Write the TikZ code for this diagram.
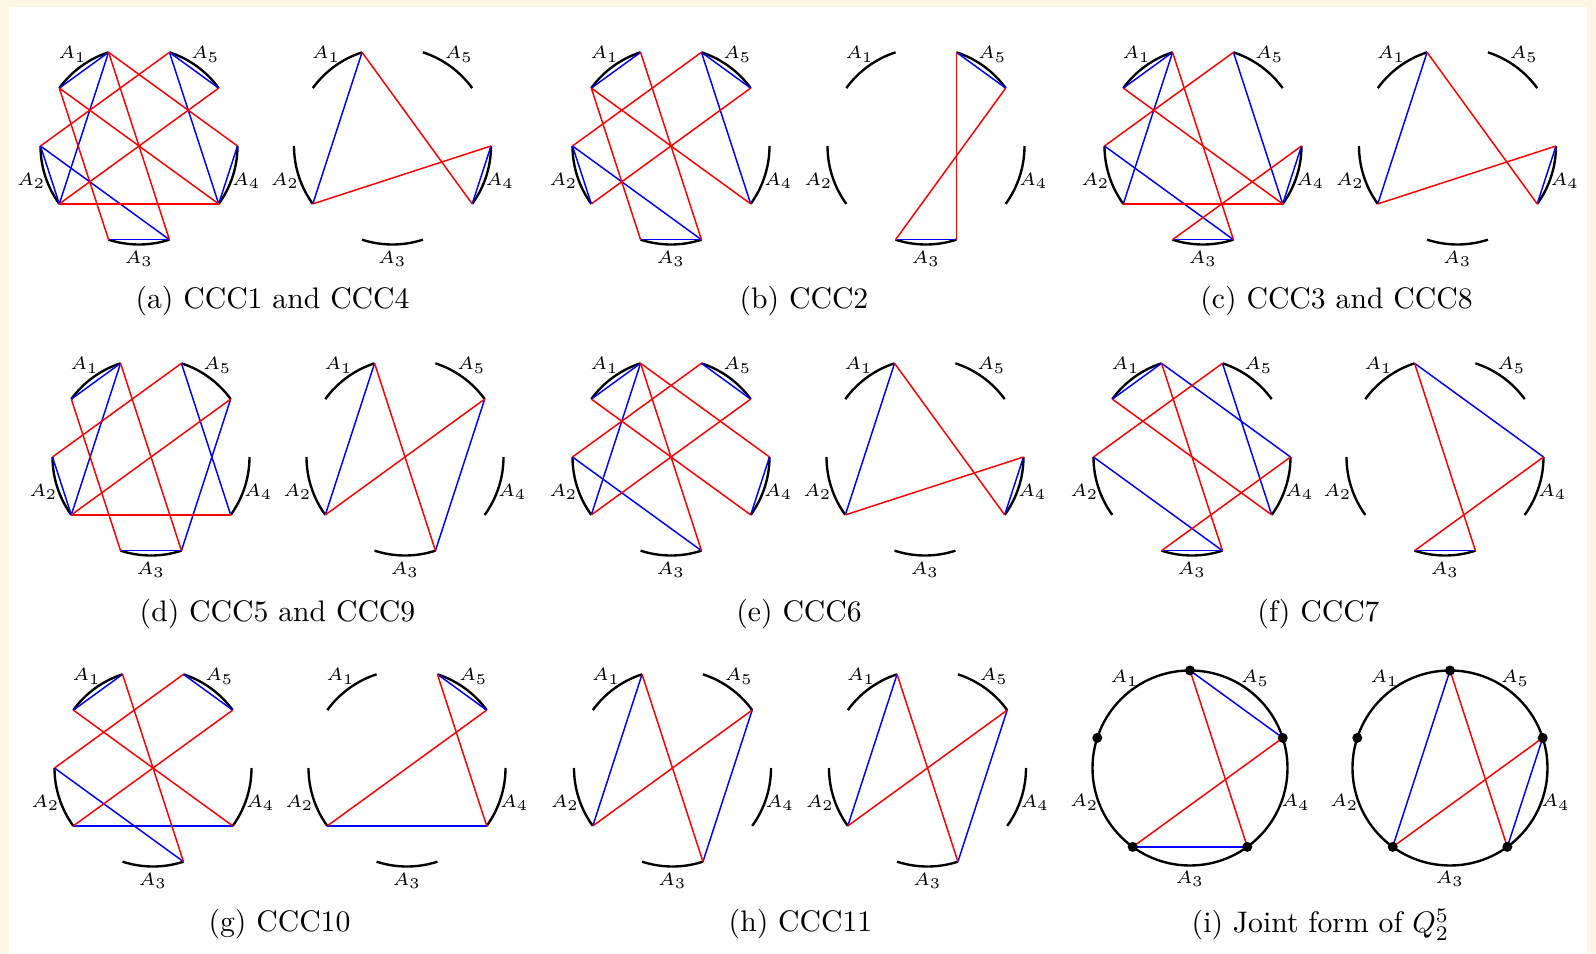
\documentclass[tikz,border=0pt]{standalone}
\usepackage{amsmath, amssymb}
\usepackage{tikz}
\usetikzlibrary{
  calc,%
  positioning
}
\tikzset{>=latex}
\tikzset{font=\normalsize}
\tikzset{arcline/.style={black, line width=0.8pt},
  bchord/.style={blue, line width=0.5pt},
  rchord/.style={red, line width=0.5pt},
  albl/.style={font=\fontsize{6}{7}\selectfont, inner sep=0pt},
  subcap/.style={font=\normalsize, inner sep=0pt}}
\definecolor{paper}{RGB}{252,245,228}

% five arcs A_1..A_5, end points (#1-0) ... (#1-9)
\newcommand{\splitcirc}[3]{%
  \coordinate (#1) at (#2,#3);
  \foreach \k in {0,...,9}
    \coordinate (#1-\k) at ($(#1)+(36*\k:98.5)$);
  \foreach \k in {1,3,5,7,9}
    \draw[arcline] (#1-\k) arc[start angle=36*\k, end angle=36*\k+36, radius=98.5];
  \foreach \a/\i in {126/1,198/2,270/3,342/4,54/5}
    \node[albl] (#1-A\i) at ($(#1)+(\a:113)$) {$A_\i$};
}
% whole circle, points (#1-0) ... (#1-4)
\newcommand{\jointcirc}[3]{%
  \coordinate (#1) at (#2,#3);
  \draw[arcline] (#1) circle[radius=97.5];
  \foreach \k in {0,...,4}
    \coordinate (#1-\k) at ($(#1)+(18+72*\k:97.5)$);
  \foreach \a/\i in {126/1,198/2,270/3,342/4,54/5}
    \node[albl] (#1-A\i) at ($(#1)+(\a:111)$) {$A_\i$};
}
\newcommand{\chords}[3]{\foreach \p/\q in {#3} \draw[#2] (#1-\p) -- (#1-\q);}

\begin{document}
\begin{tikzpicture}[x=0.3367pt, y=0.3367pt]
  \useasboundingbox (0,0) rectangle (1596,953);
  \fill[paper] (0,0) rectangle (1596,953);
  \fill[white] (9,0) rectangle (1587,946);

  % row 1
  \splitcirc{aL}{139}{807}
  \chords{aL}{bchord}{3/4,1/2,9/0,7/8,5/6,3/6,5/8,2/9}
  \chords{aL}{rchord}{3/8,4/7,2/5,1/6,6/9,3/0,4/9}
  \splitcirc{aR}{392.5}{807}
  \chords{aR}{bchord}{3/6,9/0}
  \chords{aR}{rchord}{3/9,6/0}
  \node[subcap] (capa) at (272.5,652) {(a) CCC1 and CCC4};

  \splitcirc{bL}{671}{807}
  \chords{bL}{bchord}{3/4,1/2,5/6,7/8,2/9,5/8}
  \chords{bL}{rchord}{3/8,4/7,2/5,1/6,4/9}
  \splitcirc{bR}{926}{807}
  \chords{bR}{bchord}{1/2,7/8}
  \chords{bR}{rchord}{2/8,1/7}
  \node[subcap] (capb) at (804,652) {(b) CCC2};

  \splitcirc{cL}{1203}{807}
  \chords{cL}{bchord}{3/4,3/6,5/8,2/9,9/0,7/8}
  \chords{cL}{rchord}{3/8,2/5,4/9,6/9,7/0}
  \splitcirc{cR}{1457.5}{807}
  \chords{cR}{bchord}{3/6,9/0}
  \chords{cR}{rchord}{3/9,6/0}
  \node[subcap] (capc) at (1336.5,652) {(c) CCC3 and CCC8};

  % row 2
  \splitcirc{dL}{151}{496}
  \chords{dL}{bchord}{3/4,3/6,5/6,7/8,2/9,1/8}
  \chords{dL}{rchord}{3/8,4/7,2/5,1/6,6/9}
  \splitcirc{dR}{405}{496}
  \chords{dR}{bchord}{3/6,1/8}
  \chords{dR}{rchord}{3/8,6/1}
  \node[subcap] (capd) at (277.5,339) {(d) CCC5 and CCC9};

  \splitcirc{eL}{671}{496}
  \chords{eL}{bchord}{3/4,3/6,5/8,1/2,9/0}
  \chords{eL}{rchord}{3/8,3/0,4/9,2/5,1/6}
  \splitcirc{eR}{925}{496}
  \chords{eR}{bchord}{3/6,9/0}
  \chords{eR}{rchord}{3/9,6/0}
  \node[subcap] (cape) at (799,339) {(e) CCC6};

  \splitcirc{fL}{1192}{496}
  \chords{fL}{bchord}{3/4,3/0,2/9,5/8,7/8}
  \chords{fL}{rchord}{3/8,2/5,4/9,7/0}
  \splitcirc{fR}{1445}{496}
  \chords{fR}{bchord}{3/0,7/8}
  \chords{fR}{rchord}{3/8,7/0}
  \node[subcap] (capf) at (1318.5,339) {(f) CCC7};

  % row 3
  \splitcirc{gL}{153}{185}
  \chords{gL}{bchord}{3/4,1/2,5/8,6/9}
  \chords{gL}{rchord}{3/8,4/9,2/5,1/6}
  \splitcirc{gR}{407}{185}
  \chords{gR}{bchord}{1/2,6/9}
  \chords{gR}{rchord}{2/9,1/6}
  \node[subcap] (capg) at (279.5,28.5) {(g) CCC10};

  \splitcirc{hL}{672.5}{185}
  \chords{hL}{bchord}{3/6,1/8}
  \chords{hL}{rchord}{3/8,1/6}
  \splitcirc{hR}{927.5}{185}
  \chords{hR}{bchord}{3/6,1/8}
  \chords{hR}{rchord}{3/8,1/6}
  \node[subcap] (caph) at (800.5,28.5) {(h) CCC11};

  \jointcirc{iL}{1190}{185}
  \chords{iL}{bchord}{1/0,3/4}
  \chords{iL}{rchord}{1/4,3/0}
  \jointcirc{iR}{1450}{185}
  \chords{iR}{bchord}{1/3,4/0}
  \chords{iR}{rchord}{1/4,3/0}
  \foreach \k in {0,...,4} {
    \fill (iL-\k) circle[radius=5];
    \fill (iR-\k) circle[radius=5];
  }
  \node[subcap] (capi) at (1320.5,28.5) {(i) Joint form of $Q_2^5$};
\end{tikzpicture}
\end{document}
